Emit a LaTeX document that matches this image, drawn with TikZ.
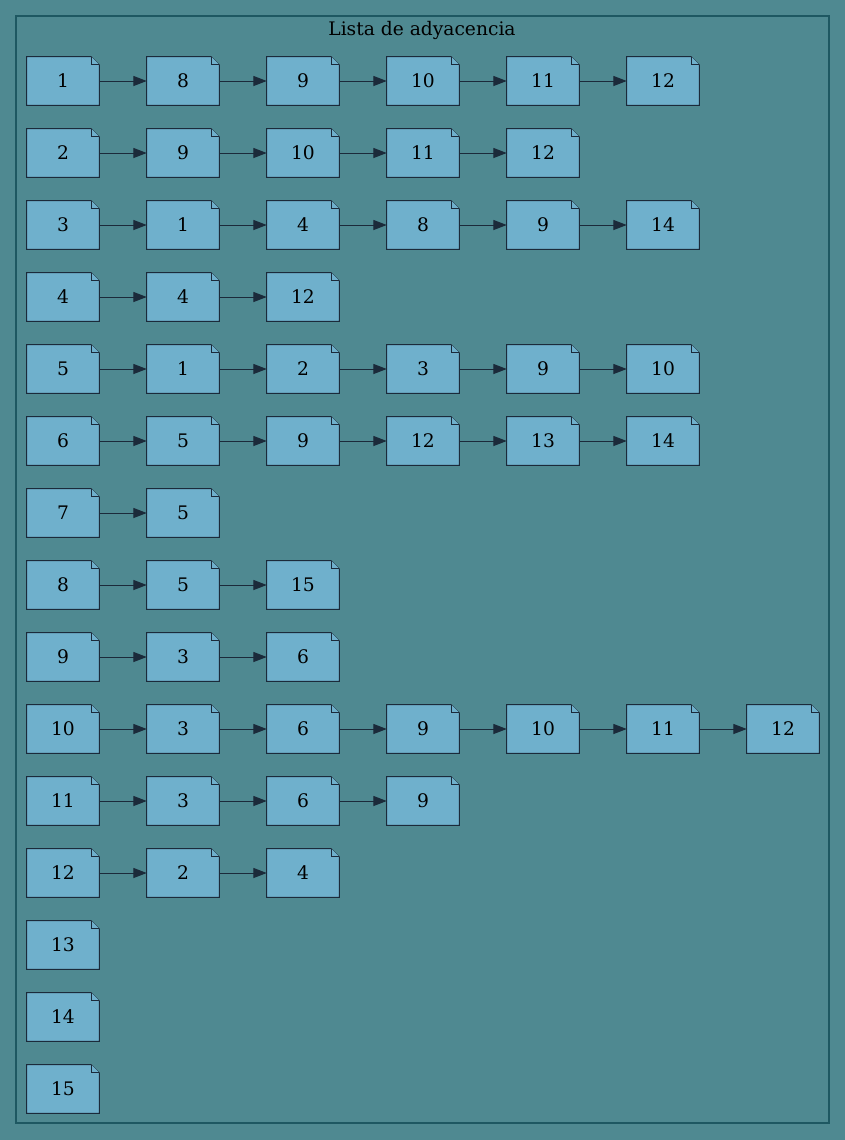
\documentclass[tikz,border=0pt]{standalone}
\usepackage{fontspec}
\setmainfont{DejaVu Serif}
\usetikzlibrary{arrows.meta,backgrounds}
\definecolor{bgcol}{RGB}{79,137,145}
\definecolor{nodefill}{RGB}{111,176,204}
\definecolor{nodeline}{RGB}{27,42,58}
\definecolor{clusterline}{RGB}{30,88,98}
\tikzset{
  note/.style={inner sep=0pt, minimum width=54pt, minimum height=36pt,
    font=\fontsize{14}{16}\selectfont, text=black},
  noteshape/.style={draw=nodeline, fill=nodefill, line width=0.75pt, line join=miter},
  arr/.style={draw=nodeline, line width=0.75pt, -{Triangle[length=10pt,width=7.5pt]}},
  cluster/.style={draw=clusterline, line width=1pt}
}
\newcommand\drawnote[1]{%
  \begin{pgfonlayer}{background}
    \path[noteshape] (#1.south west) -- (#1.south east) -- ([yshift=-6pt]#1.north east)
      -- ([xshift=-6pt]#1.north east) -- (#1.north west) -- cycle;
    \path[noteshape] ([xshift=-6pt]#1.north east) -- ([xshift=-6pt,yshift=-6pt]#1.north east)
      -- ([yshift=-6pt]#1.north east);
  \end{pgfonlayer}}
\begin{document}
\begin{tikzpicture}[x=0.75pt,y=-0.75pt]
  \begin{pgfonlayer}{background}
    \fill[bgcol] (0,0) rectangle (845,1140);
    \draw[cluster] (16,16) rectangle (829,1123);
  \end{pgfonlayer}
  \useasboundingbox (0,0) rectangle (845,1140);
  \node[font=\fontsize{14}{16}\selectfont, anchor=base] (title) at (422,35.5) {Lista de adyacencia};
  \foreach \i/\lst in {1/{8,9,10,11,12}, 2/{9,10,11,12}, 3/{1,4,8,9,14}, 4/{4,12},
      5/{1,2,3,9,10}, 6/{5,9,12,13,14}, 7/{5}, 8/{5,15}, 9/{3,6}, 10/{3,6,9,10,11,12},
      11/{3,6,9}, 12/{2,4}} {
    \pgfmathsetmacro\yy{81+72*(\i-1)}
    \node[note] (n\i-0) at (63,\yy) {\i};
    \drawnote{n\i-0}
    \foreach \v [count=\c] in \lst {
      \pgfmathtruncatemacro\p{\c-1}
      \node[note] (n\i-\c) at (63+120*\c,\yy) {\v};
      \drawnote{n\i-\c}
      \draw[arr] (n\i-\p) -- (n\i-\c);
    }
  }
  \foreach \i in {13,14,15} {
    \pgfmathsetmacro\yy{81+72*(\i-1)}
    \node[note] (n\i-0) at (63,\yy) {\i};
    \drawnote{n\i-0}
  }
\end{tikzpicture}
\end{document}
